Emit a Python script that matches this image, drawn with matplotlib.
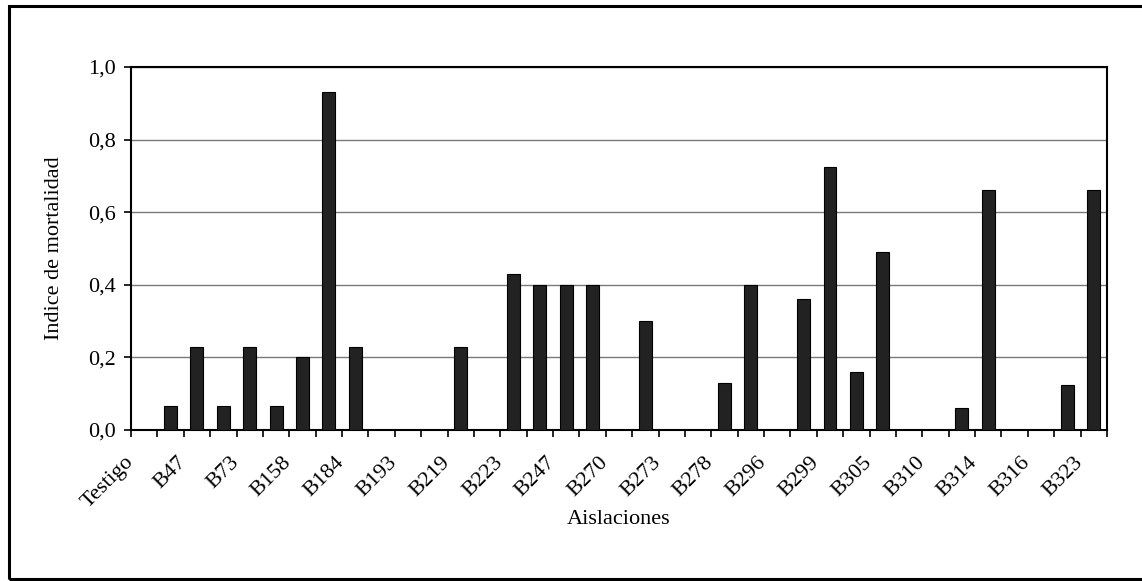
import matplotlib
matplotlib.use("Agg")
import matplotlib.pyplot as plt
import matplotlib.transforms as mtransforms
from matplotlib.patches import Rectangle
import numpy as np

plt.rcParams['font.family'] = ['Liberation Serif', 'DejaVu Serif']

# 37 categories; only every other one is labelled in the original chart
tick_labels = ["Testigo", "B47", "B73", "B158", "B184", "B193", "B219", "B223",
               "B247", "B270", "B273", "B278", "B296", "B299", "B305", "B310",
               "B314", "B316", "B323"]
values = [0.0, 0.065, 0.23, 0.065, 0.23, 0.065, 0.20, 0.93, 0.23, 0.0,
          0.0, 0.0, 0.23, 0.0, 0.43, 0.40, 0.40, 0.40, 0.0, 0.30,
          0.0, 0.0, 0.13, 0.40, 0.0, 0.36, 0.725, 0.16, 0.49, 0.0,
          0.0, 0.06, 0.66, 0.0, 0.0, 0.125, 0.66]
y_ticks = [0.0, 0.2, 0.4, 0.6, 0.8, 1.0]
y_tick_labels = ["0,0", "0,2", "0,4", "0,6", "0,8", "1,0"]

W, H = 1142, 581
fig = plt.figure(figsize=(W / 100, H / 100), dpi=100)
ax = fig.add_axes([131 / W, 1 - 430 / H, (1107 - 131) / W, (430 - 67) / H])

x = np.arange(len(values))
ax.bar(x, values, width=0.49, color='#222222', edgecolor='black', linewidth=0.8, zorder=3)

ax.set_xlim(-0.5, len(values) - 0.5)
ax.set_ylim(0, 1.0)
ax.set_yticks(y_ticks)
ax.set_yticklabels(y_tick_labels, fontsize=16)
ax.tick_params(axis='y', direction='out', length=5, width=1.2, pad=6, colors='black')
ax.yaxis.grid(True, color='#7a7a7a', linewidth=1.0, zorder=0)

# category boundary ticks
ax.set_xticks(np.arange(-0.5, len(values), 1.0), minor=True)
ax.tick_params(axis='x', which='minor', direction='out', length=5, width=1.2)
# labels on every other category
ax.set_xticks(x[::2])
ax.set_xticklabels(tick_labels, fontsize=16, rotation=45, ha='right', va='top')
ax.tick_params(axis='x', which='major', length=0, pad=16.5)
offset = mtransforms.ScaledTranslation(-7 / 100, 0, fig.dpi_scale_trans)
for lab in ax.get_xticklabels():
    lab.set_transform(lab.get_transform() + offset)

for s in ax.spines.values():
    s.set_color('black')
    s.set_linewidth(1.5)

ax.set_xlabel("Aislaciones", fontsize=16)
ax.xaxis.set_label_coords(0.5, (430 - 520) / 363)
ax.xaxis.label.set_va('center')
ax.set_ylabel("Indice de mortalidad", fontsize=16)
ax.yaxis.set_label_coords((55 - 131) / 976, 0.5)
ax.yaxis.label.set_va('center')

# outer chart frame
frame = Rectangle((9 / W, 1 - 579 / H), 1.2, (579 - 6) / H, transform=fig.transFigure,
                  fill=False, edgecolor='black', linewidth=2.2, clip_on=False)
fig.patches.append(frame)

fig.savefig("out.png", dpi=100)
